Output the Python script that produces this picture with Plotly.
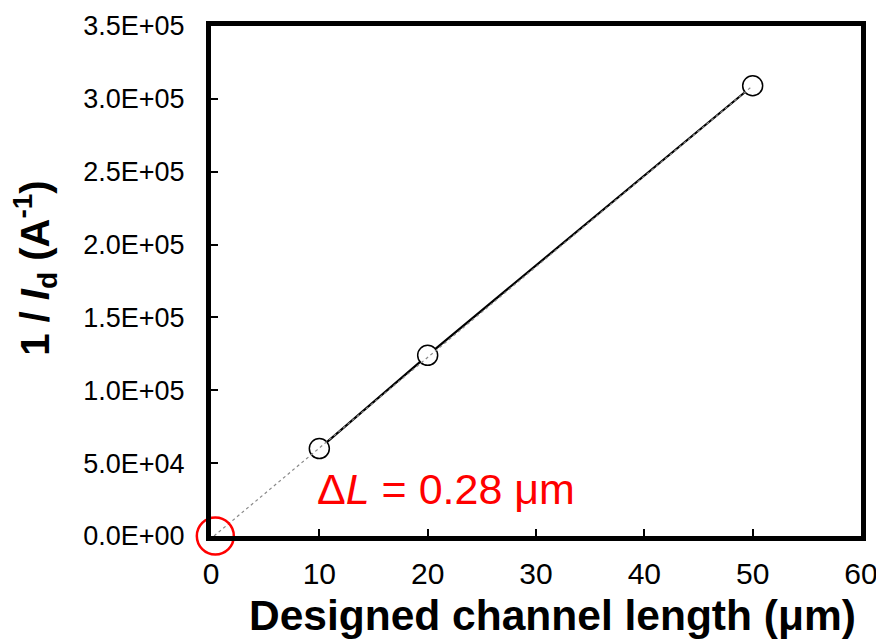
import plotly.graph_objects as go

# Data
length_um = [10, 20, 50]
inv_id = [6.0e4, 1.24e5, 3.09e5]

# Linear-fit extrapolation line (endpoints)
fit_x = [0.28, 50]
fit_y = [0, 3.09e5]

# Highlighted x-intercept
origin_x = [0.4]
origin_y = [0]

x_tickvals = [0, 10, 20, 30, 40, 50, 60]
y_tickvals = [0, 5e4, 1e5, 1.5e5, 2e5, 2.5e5, 3e5, 3.5e5]
y_ticktext = ["0.0E+00", "5.0E+04", "1.0E+05", "1.5E+05", "2.0E+05",
              "2.5E+05", "3.0E+05", "3.5E+05"]

x_title = "<b>Designed channel length (μm)</b>"
y_title = "<b>1 / <i>I</i><sub>d</sub> (A<sup>-1</sup>)</b>"
note_text = "Δ<i>L</i> = 0.28 μm"

FONT = "Arial, 'Liberation Sans', sans-serif"

fig = go.Figure()

# Solid connecting line
fig.add_trace(go.Scatter(x=length_um, y=inv_id, mode="lines",
                         line=dict(color="black", width=2.2),
                         showlegend=False, hoverinfo="skip"))
# Markers (white fill hides solid line inside)
fig.add_trace(go.Scatter(x=length_um, y=inv_id, mode="markers",
                         marker=dict(symbol="circle", size=20, color="white",
                                     line=dict(color="black", width=1.5)),
                         showlegend=False, cliponaxis=False))
# Dotted fit line on top
fig.add_trace(go.Scatter(x=fit_x, y=fit_y, mode="lines",
                         line=dict(color="#8a8a8a", width=1.2, dash="dot"),
                         showlegend=False, hoverinfo="skip"))
# Red circle at intercept
fig.add_trace(go.Scatter(x=origin_x, y=origin_y, mode="markers",
                         marker=dict(symbol="circle-open", size=37, color="red",
                                     line=dict(color="red", width=2.5)),
                         showlegend=False, cliponaxis=False))

fig.add_annotation(x=21.7, y=3.2e4, xref="x", yref="y",
                   text=note_text, showarrow=False,
                   font=dict(family=FONT, size=43, color="red"),
                   xanchor="center", yanchor="middle")

# Axis titles placed as annotations for precise positioning
fig.add_annotation(x=0.526, y=0, xref="paper", yref="paper", yshift=-79,
                   text=x_title, showarrow=False,
                   font=dict(family=FONT, size=42.5, color="black"),
                   xanchor="center", yanchor="middle")
fig.add_annotation(x=0, y=0.524, xref="paper", yref="paper", xshift=-176,
                   text=y_title, showarrow=False, textangle=-90,
                   font=dict(family=FONT, size=40, color="black"),
                   xanchor="center", yanchor="middle")

# The page body adds an 8px margin, so the figure is sized to fit the window
fig.update_layout(
    width=876, height=633,
    margin=dict(l=203, r=23, t=18, b=105, autoexpand=False),
    paper_bgcolor="white", plot_bgcolor="white",
    font=dict(family=FONT, color="black"),
    xaxis=dict(range=[0, 60], tickvals=x_tickvals, automargin=False,
               ticks="inside", ticklen=7, tickwidth=2, tickcolor="black",
               showline=True, linewidth=5, linecolor="black", mirror=True,
               showgrid=False, zeroline=False,
               tickfont=dict(size=30, family=FONT),
               ticklabelstandoff=7),
    yaxis=dict(range=[0, 3.5e5], tickvals=y_tickvals, ticktext=y_ticktext,
               automargin=False,
               ticks="inside", ticklen=7, tickwidth=2, tickcolor="black",
               showline=True, linewidth=5, linecolor="black", mirror=True,
               showgrid=False, zeroline=False,
               tickfont=dict(size=27, family=FONT),
               ticklabelstandoff=16),
)

fig.write_html("out.html")
